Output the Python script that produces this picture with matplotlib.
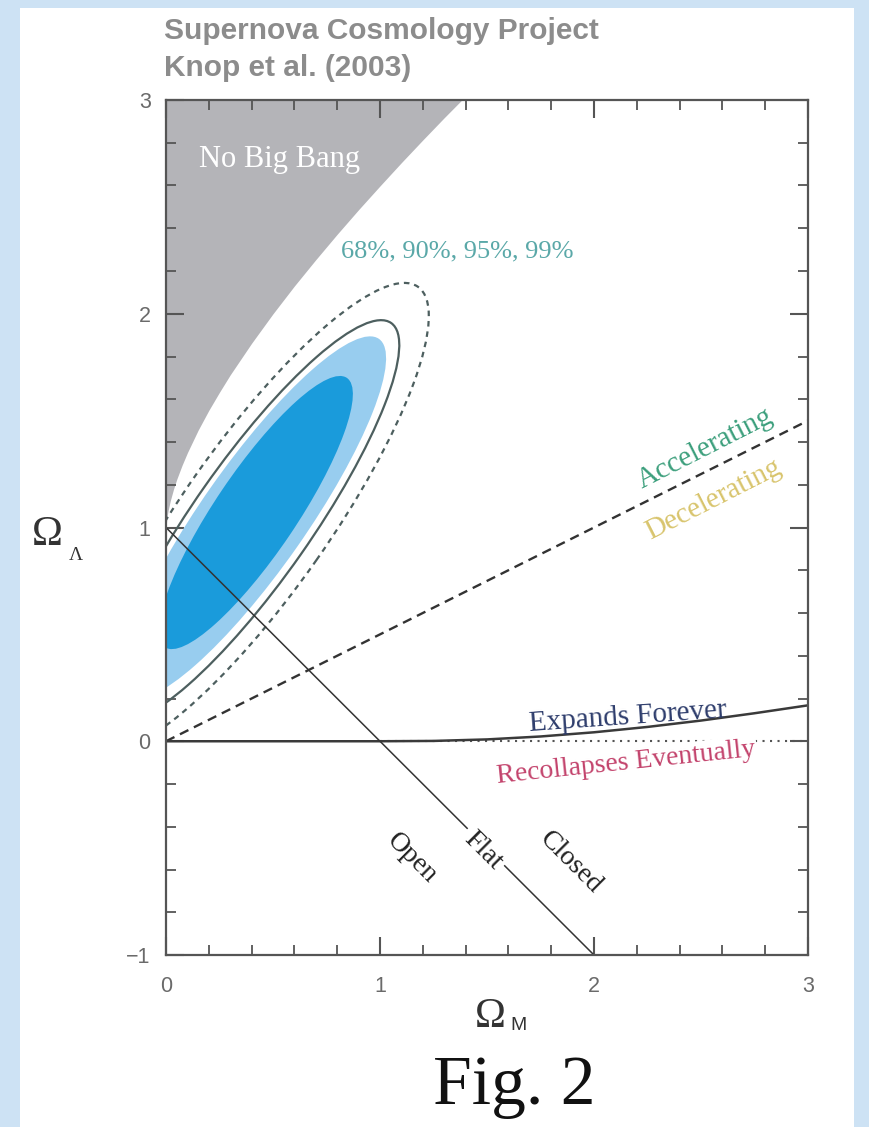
import matplotlib
matplotlib.use("Agg")
import matplotlib.pyplot as plt
from matplotlib.patches import Ellipse, Rectangle
from matplotlib.ticker import MultipleLocator

# ---- data -------------------------------------------------------------
# "No Big Bang" boundary (Omega_M, Omega_Lambda)
nobb_om = [0.0, 0.005, 0.01, 0.02, 0.035, 0.05, 0.075, 0.1, 0.15, 0.2, 0.25,
           0.3, 0.4, 0.5, 0.6, 0.7, 0.8, 0.9, 1.0, 1.1, 1.2, 1.3, 1.4]
nobb_ol = [1.0, 1.05, 1.08, 1.125, 1.179, 1.225, 1.291, 1.35, 1.455, 1.548, 1.633,
           1.714, 1.862, 2.0, 2.13, 2.253, 2.372, 2.487, 2.598, 2.707, 2.813, 2.917, 3.018]

# expands forever / recollapses boundary
ef_om = [0.0, 1.0, 1.25, 1.5, 1.75, 2.0, 2.25, 2.5, 2.75, 3.0]
ef_ol = [0.0, 0.0, 0.0015, 0.0086, 0.0223, 0.0419, 0.067, 0.0968, 0.131, 0.168]

# flat universe line and q0 = 0 line
flat_om = [0.0, 2.0]
flat_ol = [1.0, -1.0]
acc_om = [0.0, 3.0]
acc_ol = [0.0, 1.5]

# confidence regions: 68%, 90%, 95%, 99%
conf_levels = ["68%", "90%", "95%", "99%"]
ell_cx = [0.42, 0.41, 0.404, 0.42]
ell_cy = [1.07, 1.047, 1.031, 1.045]
ell_major = [1.52, 2.04, 2.26, 2.64]
ell_minor = [0.38, 0.49, 0.55, 0.69]
ell_angle = [56, 55, 55, 55]

x_ticks = [0, 1, 2, 3]
y_ticks = [-1, 0, 1, 2, 3]

# ---- figure -----------------------------------------------------------
W, H = 869, 1127
fig = plt.figure(figsize=(W / 100, H / 100), dpi=100)
fig.patch.set_facecolor("#cde2f4")
fig.add_artist(Rectangle((20 / W, 0), (854 - 20) / W, 1 - 8 / H,
                         transform=fig.transFigure, facecolor="white",
                         edgecolor="none", zorder=0))

ax = fig.add_axes([166 / W, 1 - 955 / H, 642 / W, 855 / H])
ax.set_xlim(0, 3)
ax.set_ylim(-1, 3)
ax.set_facecolor("white")

serif = "Liberation Serif"
sans = "Liberation Sans"

# No Big Bang region
ax.fill_between(nobb_om, nobb_ol, 3.2, color="#b4b4b8", lw=0, zorder=1)

# confidence contours
line_col = "#4d5f5f"
ax.add_patch(Ellipse((ell_cx[3], ell_cy[3]), ell_major[3], ell_minor[3], angle=ell_angle[3],
                     fill=False, ec=line_col, lw=1.6, ls=(0, (2.5, 2.2)), zorder=2))
ax.add_patch(Ellipse((ell_cx[2], ell_cy[2]), ell_major[2], ell_minor[2], angle=ell_angle[2],
                     fill=False, ec=line_col, lw=1.6, zorder=2))
ax.add_patch(Ellipse((ell_cx[1], ell_cy[1]), ell_major[1], ell_minor[1], angle=ell_angle[1],
                     fc="#98cdef", ec="none", zorder=2))
ax.add_patch(Ellipse((ell_cx[0], ell_cy[0]), ell_major[0], ell_minor[0], angle=ell_angle[0],
                     fc="#1a9bdb", ec="none", zorder=2))

# lines
ax.plot(acc_om, acc_ol, color="#333333", lw=1.7, ls=(0, (4, 2.6)), zorder=3)
ax.plot([1.0, 3.0], [0.0, 0.0], color="#555555", lw=1.5, ls=(0, (1, 2.6)), zorder=3)
ax.plot(ef_om, ef_ol, color="#3a3a3a", lw=1.8, zorder=3)
ax.plot(flat_om, flat_ol, color="#333333", lw=1.1, zorder=3)

# labels inside the plot
ax.text(0.53, 2.72, "No Big Bang", color="white", family=serif, fontsize=22,
        ha="center", va="center", zorder=4)
ax.text(1.36, 2.29, ", ".join(conf_levels), color="#5aa8a8", family=serif, fontsize=19,
        ha="center", va="center", zorder=4)
ax.text(2.52, 1.37, "Accelerating", color="#3c9f7c", family=serif, fontsize=21,
        rotation=27, rotation_mode="anchor", ha="center", va="center", zorder=4)
ax.text(2.56, 1.13, "Decelerating", color="#d8c46c", family=serif, fontsize=21,
        rotation=27, rotation_mode="anchor", ha="center", va="center", zorder=4)
ax.text(2.16, 0.115, "Expands Forever", color="#2e3d6c", family=serif, fontsize=21,
        rotation=4, rotation_mode="anchor", ha="center", va="center", zorder=4)
ax.text(2.15, -0.10, "Recollapses Eventually", color="#c3436c", family=serif, fontsize=20,
        rotation=6, rotation_mode="anchor", ha="center", va="center", zorder=4,
        bbox=dict(boxstyle="square,pad=0.05", fc="white", ec="none"))
ax.text(1.15, -0.55, "Open", color="#222222", family=serif, fontsize=20,
        rotation=-45, rotation_mode="anchor", ha="center", va="center", zorder=4)
ax.text(1.48, -0.51, "Flat", color="#222222", family=serif, fontsize=20,
        rotation=-45, rotation_mode="anchor", ha="center", va="center", zorder=4,
        bbox=dict(boxstyle="square,pad=0.15", fc="white", ec="none"))
ax.text(1.89, -0.57, "Closed", color="#222222", family=serif, fontsize=20,
        rotation=-45, rotation_mode="anchor", ha="center", va="center", zorder=4)

# axes styling
for s in ax.spines.values():
    s.set_color("#555555")
    s.set_linewidth(1.6)
    s.set_zorder(5)
ax.set_xticks(x_ticks)
ax.set_yticks(y_ticks)
ax.set_xticklabels([str(t) for t in x_ticks])
ax.set_yticklabels(["\u22121" if t == -1 else str(t) for t in y_ticks])
ax.xaxis.set_minor_locator(MultipleLocator(0.2))
ax.yaxis.set_minor_locator(MultipleLocator(0.2))
ax.tick_params(which="both", direction="in", top=True, right=True, color="#555555")
ax.tick_params(which="major", length=13, width=1.5)
ax.tick_params(which="minor", length=7, width=1.3)
ax.tick_params(axis="y", which="major", pad=11)
ax.tick_params(axis="x", which="major", pad=15)
for lab in ax.get_xticklabels() + ax.get_yticklabels():
    lab.set_family(sans)
    lab.set_fontsize(15.5)
    lab.set_color("#6a6a6a")

# axis titles
fig.text(47 / W, 1 - 535 / H, "\u03A9", family=serif, fontsize=30, color="#333333",
         ha="center", va="center")
fig.text(76 / W, 1 - 555 / H, "\u039B", family=serif, fontsize=14, color="#333333",
         ha="center", va="center")
fig.text(490 / W, 1 - 1017 / H, "\u03A9", family=serif, fontsize=30, color="#333333",
         ha="center", va="center")
fig.text(519 / W, 1 - 1026 / H, "M", family=sans, fontsize=14, color="#333333",
         ha="center", va="center")

# headers
fig.text(164 / W, 1 - 31 / H, "Supernova Cosmology Project", family=sans, fontsize=21.5,
         weight="bold", color="#8c8c8c", ha="left", va="center")
fig.text(164 / W, 1 - 68 / H, "Knop et al. (2003)", family=sans, fontsize=21.5,
         weight="bold", color="#8c8c8c", ha="left", va="center")
fig.text(514 / W, 1 - 1087 / H, "Fig. 2", family=serif, fontsize=50, color="#111111",
         ha="center", va="center")

fig.savefig("out.png", dpi=100, facecolor=fig.get_facecolor())
